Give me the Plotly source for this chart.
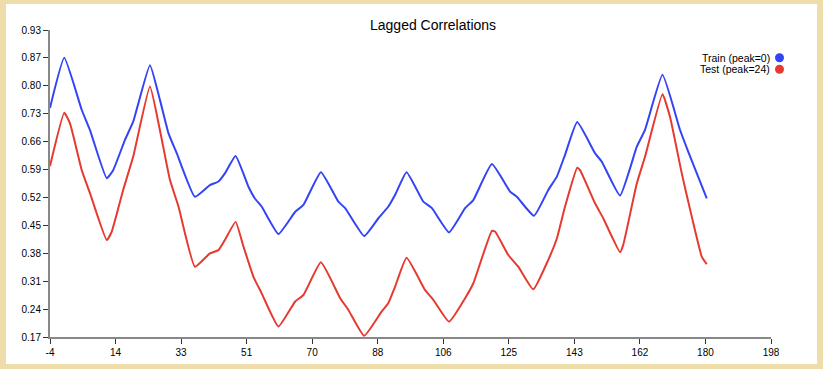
import plotly.graph_objects as go

# ---- data ----
train_lag = [-4, 0, 4.9, 7.2, 11.9, 13.7, 17.0, 19.3, 24, 26.8, 29.2, 31.5, 36.6, 40.8, 43.2, 45.0,
             48.0, 51.6, 53.4, 55.3, 60.0, 64.7, 67.0, 71.9, 76.8, 78.7, 84.0, 88.0, 90.8, 92.7,
             95.9, 100.6, 103.0, 107.8, 112.3, 114.6, 119.8, 124.9, 126.8, 131.6, 135.6, 138.0,
             140.3, 143.7, 148.7, 150.6, 155.7, 160.4, 162.7, 167.6, 172.5, 174.8, 180]
train_corr = [0.737, 0.861, 0.732, 0.682, 0.563, 0.583, 0.658, 0.703, 0.843, 0.757, 0.674, 0.625,
              0.517, 0.546, 0.555, 0.575, 0.618, 0.542, 0.513, 0.493, 0.425, 0.480, 0.497, 0.578,
              0.505, 0.489, 0.420, 0.464, 0.493, 0.522, 0.578, 0.505, 0.489, 0.429, 0.489, 0.509,
              0.598, 0.530, 0.517, 0.470, 0.534, 0.567, 0.621, 0.702, 0.625, 0.604, 0.520, 0.641,
              0.683, 0.819, 0.683, 0.629, 0.513]

test_lag = [-4, 0, 1.6, 4.9, 7.2, 11.9, 13.3, 16.5, 19.3, 24, 26.8, 29.6, 32.0, 36.6, 40.8, 43.2,
            45.0, 48.0, 50.2, 53.0, 55.3, 60.0, 64.7, 67.0, 71.9, 77.3, 79.6, 84.0, 88.9, 90.8,
            92.7, 95.9, 101.1, 103.4, 107.8, 112.3, 114.6, 119.8, 120.7, 124.4, 127.2, 131.4,
            135.6, 138.0, 140.3, 143.7, 144.5, 148.7, 151.0, 155.7, 156.6, 160.4, 162.7, 167.6,
            169.7, 173.0, 175.8, 178.6, 180]
test_corr = [0.593, 0.725, 0.699, 0.583, 0.526, 0.410, 0.431, 0.534, 0.616, 0.790, 0.682, 0.559,
             0.493, 0.344, 0.377, 0.385, 0.410, 0.455, 0.394, 0.319, 0.278, 0.196, 0.258, 0.274,
             0.355, 0.266, 0.237, 0.173, 0.233, 0.254, 0.295, 0.366, 0.286, 0.262, 0.208, 0.266,
             0.303, 0.433, 0.431, 0.373, 0.344, 0.288, 0.361, 0.414, 0.493, 0.589, 0.583, 0.501,
             0.464, 0.380, 0.398, 0.550, 0.616, 0.771, 0.715, 0.575, 0.468, 0.369, 0.350]

x_tick_labels = ["-4", "14", "33", "51", "70", "88", "106", "125", "143", "162", "180", "198"]
y_tick_labels = ["0.17", "0.24", "0.31", "0.38", "0.45", "0.52", "0.59", "0.66", "0.73", "0.80", "0.87", "0.93"]
series_names = ["Train (peak=0)", "Test (peak=24)"]
series_colors = ["#3344f6", "#e63a30"]

x_min, x_max = -4, 198
y_min, y_max = 0.17, 0.93
x_tickvals = [x_min + i * (x_max - x_min) / (len(x_tick_labels) - 1) for i in range(len(x_tick_labels))]
y_tickvals = [y_min + i * (y_max - y_min) / (len(y_tick_labels) - 1) for i in range(len(y_tick_labels))]

fig = go.Figure()
fig.add_trace(go.Scatter(x=train_lag, y=train_corr, mode="lines", name=series_names[0],
                         line=dict(color=series_colors[0], width=2, shape="spline", smoothing=0.4),
                         showlegend=False))
fig.add_trace(go.Scatter(x=test_lag, y=test_corr, mode="lines", name=series_names[1],
                         line=dict(color=series_colors[1], width=2, shape="spline", smoothing=0.4),
                         showlegend=False))

W, H = 823, 369
ml, mr, mt, mb = 50, 52, 30, 32
pw, ph = W - ml - mr, H - mt - mb

def px_to_paper_x(px):
    return (px - ml) / pw

def py_to_paper_y(py):
    return 1 - (py - mt) / ph

shapes = [
    # white inner card over beige frame
    dict(type="rect", xref="paper", yref="paper", layer="below",
         x0=px_to_paper_x(6), x1=px_to_paper_x(817), y0=py_to_paper_y(364), y1=py_to_paper_y(4),
         fillcolor="white", line=dict(width=0)),
]
annotations = [
    dict(text="Lagged Correlations", xref="paper", yref="paper", x=px_to_paper_x(433),
         y=py_to_paper_y(25), xanchor="center", yanchor="middle", showarrow=False,
         font=dict(family="Liberation Sans, Arial, sans-serif", size=14, color="black")),
]
legend_y = [57.7, 69.3]
for name, color, ly in zip(series_names, series_colors, legend_y):
    annotations.append(dict(text=name, xref="paper", yref="paper", x=px_to_paper_x(772),
                            y=py_to_paper_y(ly), xanchor="right", yanchor="middle", showarrow=False,
                            font=dict(family="Liberation Sans, Arial, sans-serif", size=10.5, color="black")))
    shapes.append(dict(type="circle", xref="paper", yref="paper", xsizemode="pixel", ysizemode="pixel",
                       xanchor=px_to_paper_x(779.5), yanchor=py_to_paper_y(ly),
                       x0=-4.5, x1=4.5, y0=-4.5, y1=4.5, fillcolor=color, line=dict(width=0)))

fig.update_layout(
    width=W, height=H,
    margin=dict(l=ml, r=mr, t=mt, b=mb, autoexpand=False),
    paper_bgcolor="#eedca9",
    plot_bgcolor="white",
    shapes=shapes,
    annotations=annotations,
    font=dict(family="Liberation Sans, Arial, sans-serif", size=10, color="black"),
)
fig.update_xaxes(range=[x_min, x_max], tickvals=x_tickvals, ticktext=x_tick_labels,
                 showgrid=False, zeroline=False, showline=True, linecolor="#888888", linewidth=2,
                 ticks="outside", ticklen=5, tickcolor="#333333", tickwidth=1, automargin=False,
                 tickfont=dict(size=10, color="black"))
fig.update_yaxes(range=[y_min, y_max], tickvals=y_tickvals, ticktext=y_tick_labels,
                 showgrid=False, zeroline=False, showline=True, linecolor="#888888", linewidth=2,
                 ticks="outside", ticklen=5, tickcolor="#333333", tickwidth=1, automargin=False,
                 tickfont=dict(size=10, color="black"))

fig.write_html("out.html", config={"displayModeBar": False},
               post_script="document.body.style.margin='0';document.body.style.overflow='hidden';")
